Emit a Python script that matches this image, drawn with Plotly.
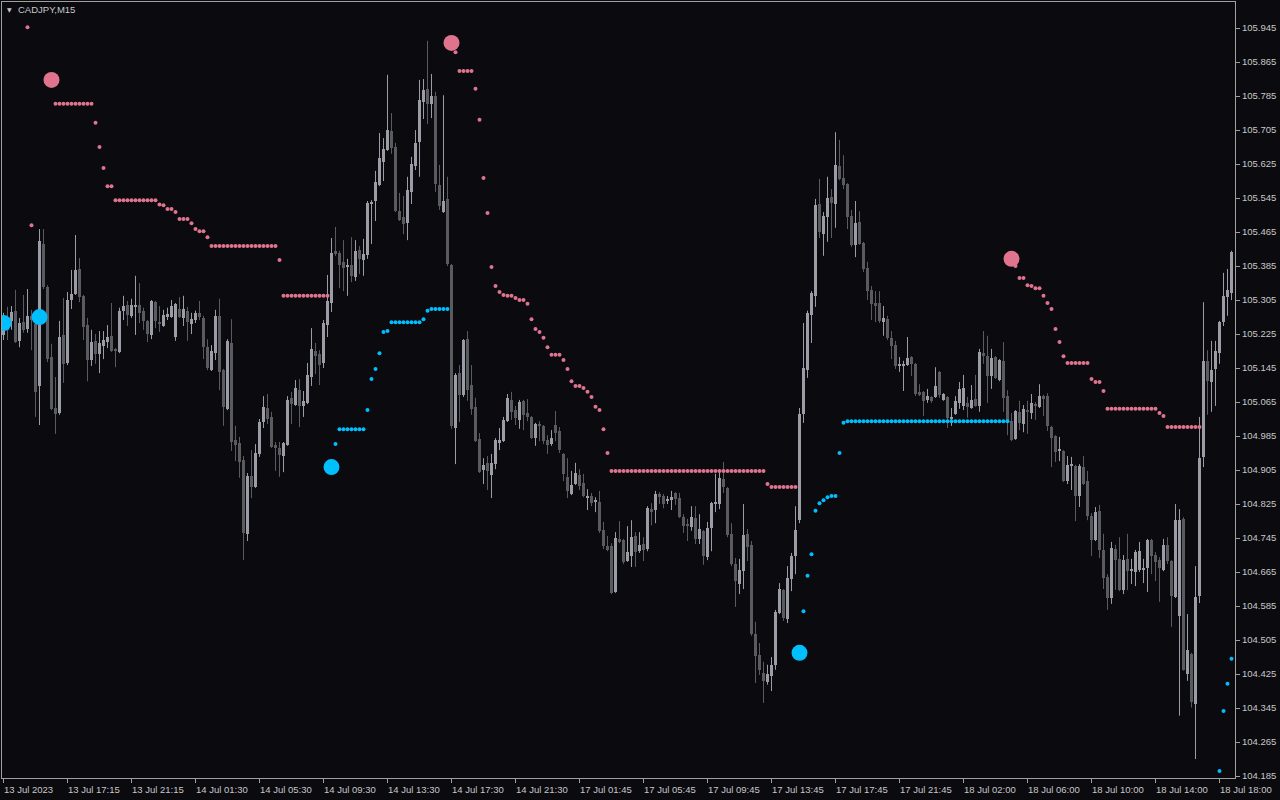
import plotly.graph_objects as go

N = None

open_ = [
105.223,105.258,105.256,105.280,105.209,105.253,105.237,105.268,105.249,105.103,
105.437,105.336,105.171,105.051,105.039,105.223,105.157,105.305,105.319,105.378,
105.315,105.246,105.164,105.209,105.178,105.197,105.206,105.221,105.187,105.183,
105.280,105.293,105.268,105.289,105.293,105.280,105.256,105.223,105.300,105.253,
105.244,105.265,105.265,105.218,105.284,105.263,105.280,105.249,105.258,105.275,
105.263,105.194,105.140,105.180,105.268,105.140,105.049,105.204,104.976,104.969,
104.929,104.755,104.891,104.865,104.943,105.018,105.051,105.030,104.964,104.957,
104.938,104.964,105.075,105.058,105.093,105.056,105.063,105.124,105.185,105.178,
105.157,105.246,105.298,105.421,105.416,105.395,105.383,105.388,105.359,105.423,
105.399,105.411,105.533,105.538,105.576,105.630,105.658,105.703,105.665,105.515,
105.500,105.486,105.559,105.620,105.677,105.771,105.801,105.766,105.785,105.576,
105.512,105.543,105.388,105.004,105.133,105.082,105.213,105.105,105.054,104.978,
104.905,104.922,104.893,104.919,104.969,104.973,105.020,105.070,105.046,105.023,
105.068,105.039,105.030,104.980,105.011,105.009,104.976,104.966,105.011,104.997,
104.943,104.889,104.849,104.872,104.893,104.874,104.839,104.844,104.832,104.830,
104.764,104.726,104.726,104.618,104.743,104.740,104.691,104.703,104.750,104.714,
104.731,104.719,104.813,104.811,104.849,104.844,104.832,104.834,104.851,104.839,
104.794,104.778,104.771,104.792,104.743,104.762,104.700,104.769,104.827,104.825,
104.884,104.863,104.755,104.684,104.637,104.667,104.755,104.729,104.519,104.470,
104.428,104.407,104.421,104.447,104.569,104.623,104.555,104.649,104.703,104.787,
105.037,105.140,105.270,105.315,105.531,105.460,105.500,105.547,105.531,105.620,
105.592,105.578,105.503,105.435,105.489,105.439,105.381,105.329,105.298,105.298,
105.253,105.261,105.216,105.199,105.150,105.150,105.152,105.171,105.155,105.089,
105.089,105.070,105.077,105.077,105.136,105.070,105.077,105.025,105.037,105.063,
105.056,105.063,105.051,105.072,105.056,105.180,105.173,105.126,105.171,105.117,
105.162,105.079,105.020,104.978,105.042,105.013,105.044,105.039,105.060,105.054,
105.079,105.079,105.006,104.985,104.950,104.950,104.879,104.915,104.915,104.844,
104.912,104.879,104.797,104.740,104.808,104.717,104.653,104.604,104.719,104.696,
104.623,104.696,104.667,104.665,104.670,104.672,104.675,104.740,104.705,104.693,
104.670,104.729,104.691,104.606,104.562,104.790,104.426,104.472,104.355,104.609,
104.936,105.162,105.112,105.143,105.180,105.253,105.312,105.322]

high = [
105.275,105.289,105.291,105.329,105.263,105.317,105.331,105.282,105.258,105.472,
105.472,105.340,105.202,105.124,105.256,105.310,105.324,105.376,105.458,105.404,
105.317,105.263,105.235,105.225,105.232,105.232,105.246,105.298,105.192,105.287,
105.315,105.303,105.308,105.362,105.345,105.287,105.258,105.305,105.303,105.291,
105.282,105.287,105.305,105.298,105.312,105.315,105.289,105.275,105.280,105.303,
105.268,105.213,105.199,105.282,105.308,105.143,105.213,105.260,105.009,104.983,
104.938,104.898,104.952,104.966,105.025,105.079,105.084,105.042,104.971,104.971,
104.971,105.079,105.089,105.117,105.119,105.091,105.157,105.239,105.204,105.187,
105.258,105.364,105.451,105.477,105.421,105.446,105.402,105.453,105.446,105.432,
105.449,105.538,105.540,105.609,105.698,105.686,105.835,105.745,105.675,105.557,
105.550,105.595,105.642,105.705,105.823,105.825,105.915,105.837,105.795,105.623,
105.787,105.595,105.390,105.133,105.152,105.213,105.232,105.152,105.075,104.992,
104.933,104.938,104.943,104.980,105.004,105.030,105.084,105.089,105.056,105.070,
105.070,105.072,105.032,105.016,105.020,105.011,104.987,104.999,105.044,105.006,
104.945,104.933,104.903,104.922,104.907,104.896,104.860,104.851,104.841,104.856,
104.783,104.750,104.733,104.759,104.785,104.743,104.773,104.787,104.759,104.759,
104.747,104.820,104.827,104.856,104.853,104.849,104.844,104.856,104.853,104.851,
104.801,104.790,104.820,104.820,104.801,104.764,104.783,104.830,104.896,104.900,
104.924,104.865,104.780,104.698,104.696,104.825,104.766,104.738,104.548,104.498,
104.454,104.447,104.465,104.576,104.639,104.625,104.679,104.710,104.820,105.051,
105.251,105.280,105.326,105.543,105.590,105.512,105.595,105.566,105.700,105.682,
105.646,105.580,105.517,105.538,105.514,105.442,105.395,105.338,105.326,105.326,
105.291,105.268,105.232,105.209,105.171,105.162,105.218,105.173,105.157,105.107,
105.091,105.096,105.079,105.147,105.138,105.086,105.079,105.051,105.079,105.112,
105.129,105.077,105.105,105.129,105.190,105.232,105.221,105.190,105.173,105.166,
105.206,105.093,105.039,105.046,105.068,105.058,105.068,105.084,105.065,105.107,
105.082,105.086,105.009,104.987,104.983,104.952,104.938,104.936,104.917,104.919,
104.938,104.903,104.804,104.818,104.823,104.755,104.660,104.736,104.729,104.747,
104.705,104.755,104.696,104.717,104.736,104.696,104.743,104.743,104.712,104.700,
104.743,104.747,104.693,104.825,104.813,104.794,104.566,104.475,104.679,105.030,
105.300,105.187,105.209,105.209,105.256,105.369,105.378,105.421]

low = [
105.211,105.211,105.235,105.204,105.194,105.228,105.228,105.187,105.030,105.011,
105.331,105.159,105.046,104.990,105.035,105.110,105.152,105.284,105.317,105.300,
105.211,105.114,105.150,105.155,105.133,105.166,105.192,105.183,105.147,105.180,
105.258,105.244,105.263,105.223,105.251,105.235,105.206,105.213,105.239,105.230,
105.242,105.258,105.263,105.209,105.263,105.244,105.209,105.225,105.251,105.258,
105.166,105.140,105.138,105.164,105.093,105.009,105.046,104.950,104.926,104.887,
104.693,104.738,104.839,104.863,104.936,105.004,105.013,104.957,104.903,104.889,
104.900,104.962,105.013,105.056,105.006,105.030,105.060,105.103,105.131,105.105,
105.145,105.218,105.277,105.409,105.333,105.326,105.315,105.347,105.350,105.366,
105.362,105.402,105.437,105.491,105.573,105.585,105.656,105.649,105.512,105.491,
105.460,105.446,105.531,105.611,105.595,105.731,105.719,105.733,105.559,105.517,
105.510,105.385,105.002,104.919,105.018,105.077,105.068,105.035,104.971,104.898,
104.872,104.858,104.839,104.907,104.952,104.971,105.018,105.023,105.011,105.002,
104.999,105.020,104.978,104.962,104.973,104.966,104.943,104.962,104.973,104.945,
104.879,104.839,104.846,104.870,104.858,104.841,104.811,104.820,104.806,104.757,
104.719,104.714,104.613,104.616,104.733,104.684,104.689,104.677,104.677,104.710,
104.691,104.714,104.775,104.780,104.825,104.815,104.825,104.811,104.823,104.792,
104.757,104.738,104.762,104.731,104.731,104.682,104.693,104.714,104.806,104.813,
104.851,104.747,104.679,104.583,104.613,104.625,104.691,104.515,104.404,104.423,
104.357,104.400,104.385,104.435,104.566,104.550,104.545,104.620,104.660,104.780,
105.016,105.122,105.204,105.289,105.451,105.409,105.442,105.451,105.475,105.587,
105.566,105.472,105.430,105.406,105.435,105.371,105.305,105.258,105.253,105.251,
105.221,105.211,105.166,105.143,105.136,105.091,105.150,105.126,105.079,105.079,
105.032,105.063,105.063,105.075,105.075,105.068,105.004,105.009,105.035,105.049,
105.046,105.028,105.049,105.054,105.042,105.155,105.063,105.096,105.119,105.114,
105.042,104.987,104.973,104.976,104.999,104.994,104.990,105.025,105.023,105.051,
105.032,104.997,104.912,104.924,104.926,104.877,104.872,104.858,104.785,104.818,
104.870,104.787,104.703,104.738,104.698,104.625,104.576,104.590,104.623,104.620,
104.613,104.623,104.637,104.632,104.665,104.639,104.618,104.660,104.644,104.595,
104.667,104.684,104.536,104.604,104.327,104.433,104.409,104.346,104.225,104.592,
104.912,105.035,105.042,105.056,105.155,105.244,105.268,105.305]

close = [
105.235,105.235,105.277,105.206,105.251,105.235,105.268,105.258,105.088,105.444,
105.336,105.166,105.049,105.037,105.218,105.155,105.305,105.319,105.376,105.312,
105.242,105.164,105.206,105.178,105.204,105.211,105.218,105.185,105.186,105.280,
105.291,105.270,105.293,105.293,105.275,105.256,105.225,105.303,105.256,105.249,
105.270,105.272,105.291,105.296,105.265,105.284,105.253,105.261,105.275,105.265,
105.194,105.145,105.185,105.268,105.136,105.054,105.209,104.971,104.964,104.924,
104.757,104.891,104.865,104.945,105.018,105.054,105.025,104.959,104.957,104.940,
104.969,105.070,105.060,105.098,105.056,105.068,105.129,105.190,105.173,105.152,
105.251,105.303,105.416,105.413,105.388,105.381,105.388,105.362,105.421,105.402,
105.413,105.533,105.535,105.583,105.639,105.660,105.705,105.663,105.515,105.493,
105.484,105.564,105.625,105.675,105.776,105.799,105.766,105.785,105.578,105.526,
105.538,105.390,105.009,105.129,105.082,105.211,105.093,105.049,104.973,104.900,
104.917,104.903,104.922,104.976,104.976,105.023,105.075,105.042,105.028,105.065,
105.035,105.030,104.980,105.013,105.010,104.973,104.964,104.980,104.992,104.952,
104.896,104.856,104.870,104.898,104.867,104.844,104.844,104.827,104.833,104.762,
104.726,104.717,104.616,104.745,104.735,104.689,104.712,104.747,104.712,104.729,
104.717,104.815,104.806,104.849,104.841,104.825,104.837,104.841,104.837,104.794,
104.773,104.773,104.794,104.743,104.766,104.703,104.769,104.827,104.828,104.886,
104.865,104.752,104.684,104.644,104.670,104.752,104.724,104.519,104.468,104.435,
104.409,104.426,104.447,104.571,104.625,104.557,104.651,104.703,104.764,105.037,
105.145,105.275,105.322,105.529,105.465,105.503,105.545,105.533,105.623,105.590,
105.576,105.500,105.435,105.486,105.437,105.378,105.326,105.296,105.291,105.256,
105.263,105.216,105.197,105.150,105.152,105.155,105.169,105.155,105.084,105.082,
105.068,105.079,105.068,105.103,105.082,105.084,105.028,105.030,105.068,105.096,
105.098,105.054,105.070,105.056,105.183,105.173,105.126,105.169,105.122,105.164,
105.075,105.020,104.976,105.044,105.016,105.049,105.042,105.063,105.056,105.079,
105.072,105.009,104.980,104.948,104.951,104.879,104.917,104.916,104.844,104.915,
104.872,104.797,104.740,104.806,104.717,104.651,104.604,104.722,104.693,104.623,
104.693,104.667,104.672,104.712,104.714,104.673,104.740,104.703,104.689,104.675,
104.729,104.691,104.609,104.787,104.787,104.435,104.482,104.360,104.606,104.933,
105.162,105.114,105.140,105.185,105.253,105.315,105.329,105.418]

resistance = [
N,N,N,N,N,N,105.947,105.481,N,N,
N,N,N,105.767,105.767,105.767,105.767,105.767,105.767,105.767,
105.767,105.767,105.767,105.722,105.665,105.616,105.573,105.573,105.540,105.540,
105.540,105.540,105.540,105.540,105.540,105.540,105.540,105.540,105.540,105.530,
105.528,105.519,105.519,105.512,105.496,105.496,105.496,105.486,105.472,105.467,
105.467,105.453,105.432,105.432,105.432,105.432,105.432,105.432,105.432,105.432,
105.432,105.432,105.432,105.432,105.432,105.432,105.432,105.432,105.432,105.399,
105.315,105.315,105.315,105.315,105.315,105.315,105.315,105.315,105.315,105.315,
105.315,105.315,N,N,N,N,N,N,N,N,
N,N,N,N,N,N,N,N,N,N,
N,N,N,N,N,N,N,N,N,N,
N,N,N,105.888,105.844,105.844,105.844,105.844,105.802,105.729,
105.592,105.510,105.383,105.338,105.324,105.317,105.315,105.315,105.310,105.305,
105.305,105.296,105.260,105.237,105.230,105.216,105.194,105.176,105.176,105.176,
105.164,105.143,105.114,105.103,105.103,105.098,105.089,105.077,105.054,105.046,
105.001,104.945,104.903,104.903,104.903,104.903,104.903,104.903,104.903,104.903,
104.903,104.903,104.903,104.903,104.903,104.903,104.903,104.903,104.903,104.903,
104.903,104.903,104.903,104.903,104.903,104.903,104.903,104.903,104.903,104.903,
104.903,104.903,104.903,104.903,104.903,104.903,104.903,104.903,104.903,104.903,
104.903,104.872,104.865,104.865,104.865,104.865,104.865,104.865,104.865,N,
N,N,N,N,N,N,N,N,N,N,
N,N,N,N,N,N,N,N,N,N,
N,N,N,N,N,N,N,N,N,N,
N,N,N,N,N,N,N,N,N,N,
N,N,N,N,N,N,N,N,N,N,
N,N,N,105.385,105.357,105.357,105.340,105.338,105.333,105.333,
105.315,105.298,105.284,105.237,105.206,105.173,105.157,105.157,105.157,105.157,
105.157,105.157,105.119,105.112,105.112,105.091,105.049,105.049,105.049,105.049,
105.049,105.049,105.049,105.049,105.049,105.049,105.049,105.049,105.049,105.039,
105.032,105.006,105.006,105.006,105.006,105.006,105.006,105.006,105.006,105.006,
N,N,N,N,N,N,N,N]

support = [
N,N,N,N,N,N,N,N,N,N,
N,N,N,N,N,N,N,N,N,N,
N,N,N,N,N,N,N,N,N,N,
N,N,N,N,N,N,N,N,N,N,
N,N,N,N,N,N,N,N,N,N,
N,N,N,N,N,N,N,N,N,N,
N,N,N,N,N,N,N,N,N,N,
N,N,N,N,N,N,N,N,N,N,
N,N,N,104.966,105.001,105.001,105.001,105.001,105.001,105.001,
105.001,105.046,105.119,105.143,105.180,105.230,105.232,105.253,105.253,105.253,
105.253,105.253,105.253,105.253,105.253,105.260,105.280,105.284,105.284,105.284,
105.284,105.284,N,N,N,N,N,N,N,N,
N,N,N,N,N,N,N,N,N,N,
N,N,N,N,N,N,N,N,N,N,
N,N,N,N,N,N,N,N,N,N,
N,N,N,N,N,N,N,N,N,N,
N,N,N,N,N,N,N,N,N,N,
N,N,N,N,N,N,N,N,N,N,
N,N,N,N,N,N,N,N,N,N,
N,N,N,N,N,N,N,N,N,N,
104.573,104.656,104.707,104.809,104.827,104.834,104.841,104.844,104.844,104.945,
105.016,105.020,105.020,105.020,105.020,105.020,105.020,105.020,105.020,105.020,
105.020,105.020,105.020,105.020,105.020,105.020,105.020,105.020,105.020,105.020,
105.020,105.020,105.020,105.020,105.020,105.020,105.020,105.020,105.020,105.020,
105.020,105.020,105.020,105.020,105.020,105.020,105.020,105.020,105.020,105.020,
105.020,105.020,N,N,N,N,N,N,N,N,
N,N,N,N,N,N,N,N,N,N,
N,N,N,N,N,N,N,N,N,N,
N,N,N,N,N,N,N,N,N,N,
N,N,N,N,N,N,N,N,N,N,
N,N,N,N,104.197,104.338,104.402,104.461]

buy_signal_bars = [0, 9, 82, 199]
buy_signal_prices = [105.251, 105.265, 104.912, 104.475]
sell_signal_bars = [12, 112, 252]
sell_signal_prices = [105.823, 105.910, 105.402]

time_label_bars = [0, 16, 32, 48, 64, 80, 96, 112, 128, 144, 160, 176, 192, 208, 224, 240, 256, 272, 288, 304]
time_labels = ["13 Jul 2023", "13 Jul 17:15", "13 Jul 21:15", "14 Jul 01:30", "14 Jul 05:30",
               "14 Jul 09:30", "14 Jul 13:30", "14 Jul 17:30", "14 Jul 21:30", "17 Jul 01:45",
               "17 Jul 05:45", "17 Jul 09:45", "17 Jul 13:45", "17 Jul 17:45", "17 Jul 21:45",
               "18 Jul 02:00", "18 Jul 06:00", "18 Jul 10:00", "18 Jul 14:00", "18 Jul 18:00"]

price_ticks = [104.185, 104.265, 104.345, 104.425, 104.505, 104.585, 104.665, 104.745, 104.825,
               104.905, 104.985, 105.065, 105.145, 105.225, 105.305, 105.385, 105.465, 105.545,
               105.625, 105.705, 105.785, 105.865, 105.945]
price_labels = ["104.185", "104.265", "104.345", "104.425", "104.505", "104.585", "104.665",
                "104.745", "104.825", "104.905", "104.985", "105.065", "105.145", "105.225",
                "105.305", "105.385", "105.465", "105.545", "105.625", "105.705", "105.785",
                "105.865", "105.945"]

symbol_title = "CADJPY,M15"

BG = "#0a0a0f"
BULL = "#9c9ca6"
BEAR = "#5a5a61"
PINK = "#e0748f"
BLUE = "#00bfff"
AXIS = "#a0a0a0"
TXT = "#c8c8c8"
FONT = "Liberation Sans"

bars = list(range(len(close)))

fig = go.Figure()

for is_bull, col in [(True, BULL), (False, BEAR)]:
    bx, bbase, bh = [], [], []
    wx, wy = [], []
    for i in bars:
        up = close[i] > open_[i]
        if up != is_bull:
            continue
        lo_b = min(open_[i], close[i])
        hi_b = max(open_[i], close[i])
        bx.append(i)
        bbase.append(lo_b)
        bh.append(max(hi_b - lo_b, 0.0024))
        wx += [i, i, None]
        wy += [low[i], high[i], None]
    fig.add_trace(go.Scatter(x=wx, y=wy, mode="lines", line=dict(color=col, width=1),
                             hoverinfo="skip", showlegend=False))
    fig.add_trace(go.Bar(x=bx, y=bh, base=bbase, width=0.75, marker=dict(color=col, line=dict(width=0)),
                         hoverinfo="skip", showlegend=False))

fig.add_trace(go.Scatter(x=bars, y=resistance, mode="markers",
                         marker=dict(color=PINK, size=4, symbol="circle"),
                         hoverinfo="skip", showlegend=False))
fig.add_trace(go.Scatter(x=bars, y=support, mode="markers",
                         marker=dict(color=BLUE, size=4, symbol="circle"),
                         hoverinfo="skip", showlegend=False))
fig.add_trace(go.Scatter(x=sell_signal_bars, y=sell_signal_prices, mode="markers",
                         marker=dict(color=PINK, size=16, symbol="circle"),
                         hoverinfo="skip", showlegend=False))
fig.add_trace(go.Scatter(x=buy_signal_bars, y=buy_signal_prices, mode="markers",
                         marker=dict(color=BLUE, size=16, symbol="circle"),
                         hoverinfo="skip", showlegend=False))

annotations = []
for b, t in zip(time_label_bars, time_labels):
    annotations.append(dict(x=b, xref="x", y=0, yref="paper", text=t, showarrow=False,
                            xanchor="left", yanchor="middle", yshift=-11, xshift=-2,
                            font=dict(family=FONT, size=9.5, color=TXT)))
annotations.append(dict(x=0.0061, xref="paper", y=0.9897, yref="paper", text="▼", showarrow=False,
                        xanchor="center", yanchor="middle",
                        font=dict(family="DejaVu Sans", size=6, color=TXT)))
annotations.append(dict(x=0.0115, xref="paper", y=0.9897, yref="paper", text=symbol_title,
                        showarrow=False, xanchor="left", yanchor="middle",
                        font=dict(family=FONT, size=9.5, color=TXT)))

ymax = 106.0063
ymin = 104.1804

fig.update_layout(
    width=1280, height=800, autosize=False,
    margin=dict(l=2, r=45, t=2, b=22, pad=0),
    paper_bgcolor=BG, plot_bgcolor=BG,
    barmode="overlay", bargap=0,
    showlegend=False, hovermode=False,
    annotations=annotations,
    xaxis=dict(range=[-0.375, 307.875], tickvals=time_label_bars, showticklabels=False,
               ticks="outside", ticklen=4, tickcolor=AXIS, showline=True, linecolor=AXIS,
               linewidth=1, mirror=True, showgrid=False, zeroline=False, fixedrange=True),
    yaxis=dict(range=[ymin, ymax], side="right", tickvals=price_ticks, ticktext=price_labels,
               ticks="outside", ticklen=4, tickcolor=AXIS, showline=True, linecolor=AXIS,
               linewidth=1, mirror=True, showgrid=False, zeroline=False, fixedrange=True,
               tickfont=dict(family=FONT, size=9.5, color=TXT)),
)

fig.write_html("out.html", config={"displayModeBar": False},
               post_script="document.body.style.margin='0px';document.body.style.overflow='hidden';document.body.style.background='#0a0a0f';")
